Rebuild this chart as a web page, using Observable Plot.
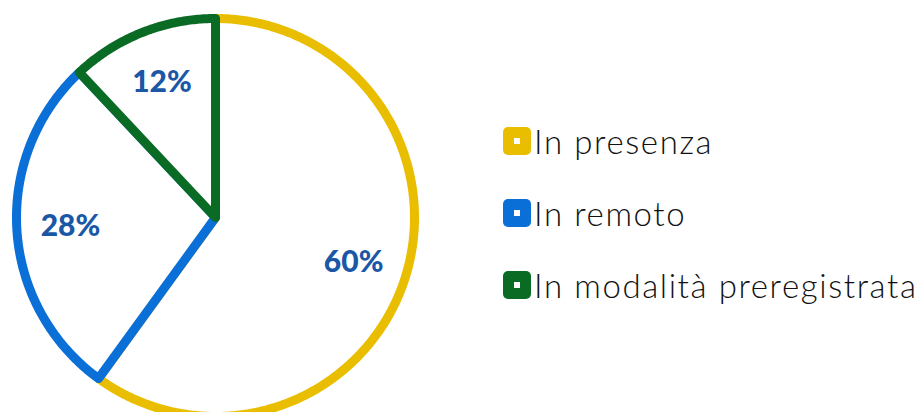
<!DOCTYPE html>
<html><head><meta charset="utf-8">
<script src="https://cdn.jsdelivr.net/npm/d3@7"></script>
<script src="https://cdn.jsdelivr.net/npm/@observablehq/plot@0.6"></script>
<style>
body{margin:0;background:#fff;}
#wrap{position:relative;width:920px;height:412px;overflow:hidden;}
#legend{position:absolute;left:503px;top:0;font-family:"Lato",sans-serif;font-weight:300;font-size:33px;letter-spacing:1.6px;color:#111;}
.row{position:absolute;left:0;display:flex;align-items:center;white-space:nowrap;}
.sw{width:28px;height:28px;border-radius:5px;display:flex;align-items:center;justify-content:center;margin-right:3px;}
.sw i{width:6px;height:6px;background:#fff;display:block;}
</style></head><body>
<div id="wrap"><div id="legend"></div></div>
<script>
const categories = ["In presenza", "In remoto", "In modalità preregistrata"];
const values = [60, 28, 12];
const labels = ["60%", "28%", "12%"];
const colors = ["#E9BE00", "#0A6FD6", "#0A6B25"];

const total = d3.sum(values);
const pts = [];
const lbl = [];
let acc = 0;
categories.forEach((c, i) => {
  const a0 = acc / total * 2 * Math.PI;
  acc += values[i];
  const a1 = acc / total * 2 * Math.PI;
  pts.push({cat: c, x: 0, y: 0});
  const n = Math.max(2, Math.ceil((a1 - a0) / 0.01));
  for (let k = 0; k <= n; k++) {
    const a = a0 + (a1 - a0) * k / n;
    pts.push({cat: c, x: Math.sin(a), y: Math.cos(a)});
  }
  const am = (a0 + a1) / 2;
  lbl.push({cat: c, label: labels[i], x: 0.73 * Math.sin(am), y: 0.73 * Math.cos(am)});
});

const cx = 215, cy = 217, R = 199;
const chart = Plot.plot({
  width: 920, height: 412, margin: 0,
  x: {domain: [-1, 1], range: [cx - R, cx + R], axis: null},
  y: {domain: [-1, 1], range: [cy + R, cy - R], axis: null},
  color: {domain: categories, range: colors},
  marks: [
    Plot.line(pts, {x: "x", y: "y", z: "cat", stroke: "cat", fill: "white", curve: "linear-closed", strokeWidth: 9, strokeLinejoin: "round"}),
    Plot.text(lbl, {x: "x", y: "y", text: "label", fill: "#1B57A7", fontSize: 30, fontWeight: 900, fontFamily: "Lato, sans-serif"})
  ]
});
document.getElementById("wrap").prepend(chart);

const lg = document.getElementById("legend");
const tops = [121, 193, 265];
categories.forEach((c, i) => {
  const r = document.createElement("div");
  r.className = "row";
  r.style.top = tops[i] + "px";
  r.innerHTML = `<span class="sw" style="background:${colors[i]}"><i></i></span><span>${c}</span>`;
  lg.appendChild(r);
});
</script>
</body></html>
